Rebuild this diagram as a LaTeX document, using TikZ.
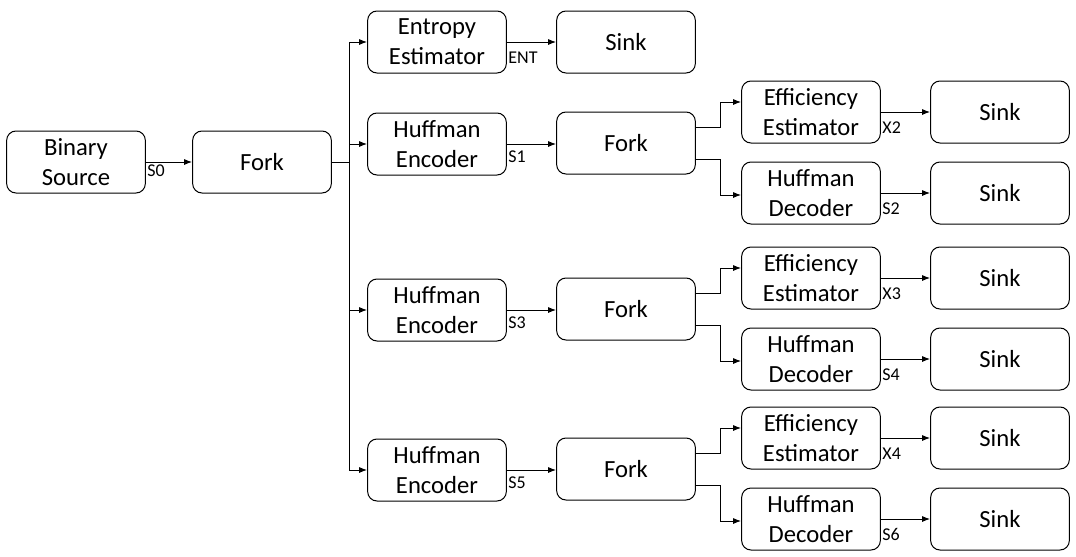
\documentclass[tikz,border=0pt]{standalone}
\usepackage{fontspec}
\setmainfont{Carlito}
\usetikzlibrary{arrows.meta}
\begin{document}
\begin{tikzpicture}[x=0.75pt,y=-0.75pt,
    box/.style={draw,line width=0.75pt,rounded corners=7pt,minimum width=104pt,
      minimum height=46.5pt,inner sep=0pt,align=center,
      font=\fontsize{18.5}{22.5}\selectfont},
    lbl/.style={anchor=north west,inner sep=1pt,font=\fontsize{13.5}{15}\selectfont},
    arr/.style={line width=0.75pt,-{Latex[length=6pt,width=4.5pt]}}]
     \useasboundingbox (0,0) rectangle (1076,557);
     % source and first fork
     \node[box] (src) at (76,162) {Binary\\Source};
     \node[box] (fork) at (262,162) {Fork};
     \draw[arr] (src) -- (fork);
     \node[lbl,yshift=-1pt] (lbs0) at (src.east) {S0};
     % entropy branch
     \node[box] (ent) at (437,42) {Entropy\\Estimator};
     \node[box] (entsink) at (626,42) {Sink};
     \draw[arr] (fork.east) -- ++(18,0) |- (ent.west);
     \draw[arr] (ent) -- (entsink);
     \node[lbl,yshift=-6pt] (lbent) at (ent.east) {ENT};
     % huffman branches
     \foreach \y/\s/\x/\d [count=\i] in {144/S1/X2/S2, 310/S3/X3/S4, 470/S5/X4/S6} {
        \node[box] (enc\i) at (437,\y) {Huffman\\Encoder};
        \node[box] (fork\i) at (626,\y-1) {Fork};
        \node[box] (eff\i) at (811,\y-32) {Efficiency\\Estimator};
        \node[box] (dec\i) at (811,\y+49) {Huffman\\Decoder};
        \node[box] (effsink\i) at (1000,\y-32) {Sink};
        \node[box] (decsink\i) at (1000,\y+49) {Sink};
        \draw[arr] (fork.east) -- ++(18,0) |- (enc\i.west);
        \draw[arr] (enc\i.east) -- (enc\i.east -| fork\i.west);
        \draw[arr] ([yshift=12pt]fork\i.east) -- ++(25,0) |- ([yshift=7.5pt]eff\i.west);
        \draw[arr] ([yshift=-12.5pt]fork\i.east) -- ++(25,0) |- ([yshift=-1.5pt]dec\i.west);
        \draw[arr] (eff\i) -- (effsink\i);
        \draw[arr] (dec\i) -- (decsink\i);
        \node[lbl,yshift=-4pt] (lbs\i) at (enc\i.east) {\s};
        \node[lbl,yshift=-6pt] (lbx\i) at (eff\i.east) {\x};
        \node[lbl,yshift=-6pt] (lbd\i) at (dec\i.east) {\d};
     }
\end{tikzpicture}
\end{document}
